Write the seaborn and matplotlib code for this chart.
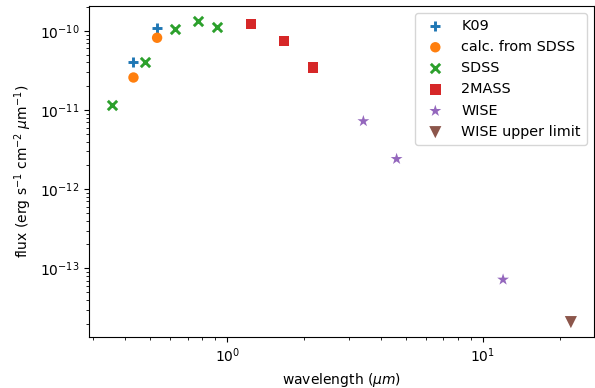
import seaborn as sns
import matplotlib.pyplot as plt
import pandas as pd

# photometry
k09_wl = [0.43, 0.532]
k09_flux = [4.0e-11, 1.08e-10]

calc_wl = [0.43, 0.532]
calc_flux = [2.58e-11, 8.2e-11]

sdss_wl = [0.355, 0.478, 0.625, 0.766, 0.915]
sdss_flux = [1.15e-11, 4.0e-11, 1.05e-10, 1.34e-10, 1.11e-10]

tmass_wl = [1.24, 1.67, 2.17]
tmass_flux = [1.22e-10, 7.4e-11, 3.46e-11]

wise_wl = [3.41, 4.6, 12.0]
wise_flux = [7.24e-12, 2.41e-12, 7.2e-14]

wise_ul_wl = [22.1]
wise_ul_flux = [2.09e-14]

groups = [
    ('K09', k09_wl, k09_flux, '+', 'tab:blue', 52),
    ('calc. from SDSS', calc_wl, calc_flux, 'o', 'tab:orange', 56),
    ('SDSS', sdss_wl, sdss_flux, 'x', 'tab:green', 45),
    ('2MASS', tmass_wl, tmass_flux, 's', 'tab:red', 56),
    ('WISE', wise_wl, wise_flux, '*', 'tab:purple', 80),
    ('WISE upper limit', wise_ul_wl, wise_ul_flux, 'v', 'tab:brown', 76),
]

fig, ax = plt.subplots(figsize=(5.95, 3.88), dpi=100)

for name, wl, flux, marker, color, size in groups:
    df = pd.DataFrame({'wl': wl, 'flux': flux})
    if marker in ('+', 'x'):
        sns.scatterplot(data=df, x='wl', y='flux', marker=marker, color=color,
                        s=size, linewidth=2.1, label=name, ax=ax)
    else:
        sns.scatterplot(data=df, x='wl', y='flux', marker=marker, color=color,
                        s=size, edgecolor='none', label=name, ax=ax)

ax.set_xscale('log')
ax.set_yscale('log')
ax.set_xlabel(r'wavelength ($\mu m$)')
ax.set_ylabel(r'flux (erg s$^{-1}$ cm$^{-2}$ $\mu$m$^{-1}$)')
ax.legend(loc='upper right', fontsize=10.4)

fig.subplots_adjust(left=0.15, right=0.998, top=0.985, bottom=0.131)
fig.savefig('out.png')
